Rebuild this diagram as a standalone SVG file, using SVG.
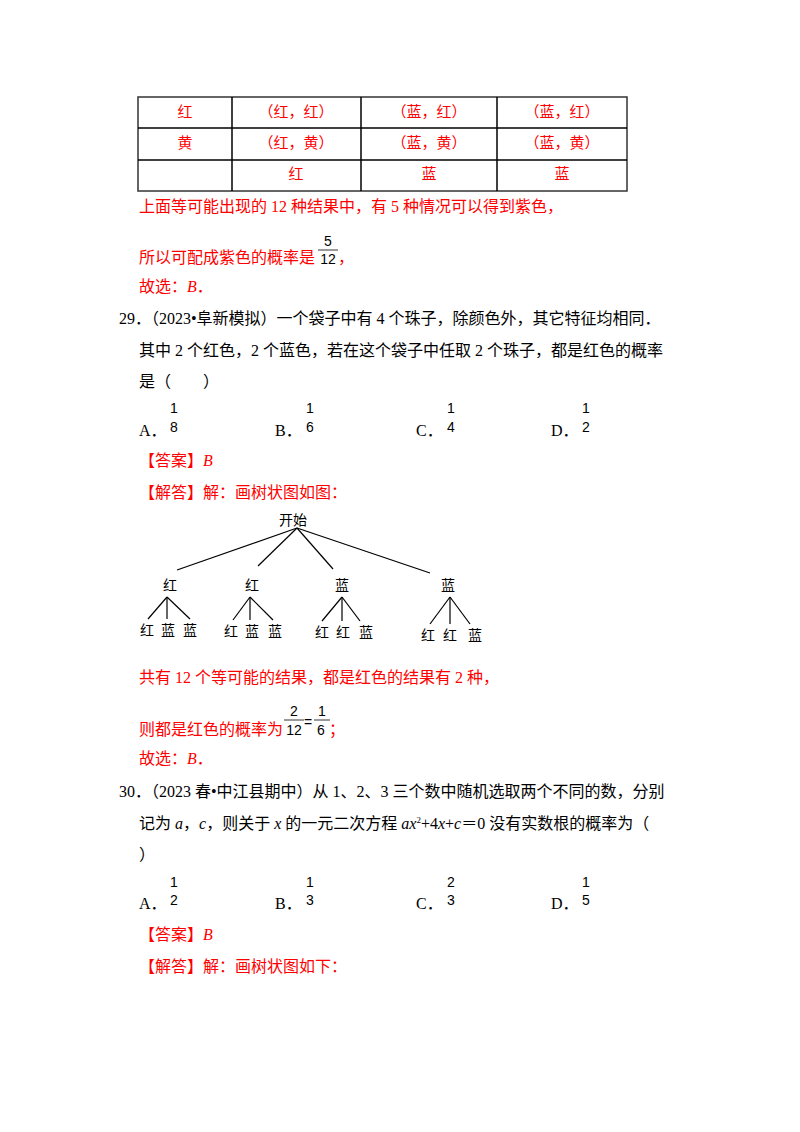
<svg xmlns="http://www.w3.org/2000/svg" width="800" height="1132" viewBox="0 0 800 1132">
<style>
text{font-family:"Liberation Serif","Noto Sans CJK SC",serif;font-size:16px}
.r{fill:#ff0000}
.k{fill:#000}
.m{text-anchor:middle;font-size:15px}
.f{font-family:"Liberation Sans","Noto Sans CJK SC",sans-serif;font-size:14px;text-anchor:middle}
.t{font-family:"Noto Sans CJK SC",sans-serif;font-size:14px;text-anchor:middle;fill:#000}
.i{font-style:italic}
line{stroke:#000}
</style>
<rect width="800" height="1132" fill="#fff"/>
<g id="table" stroke="#333" stroke-width="1.5" fill="none">
<rect x="138" y="97" width="489" height="94"/>
<line x1="138" y1="128" x2="627" y2="128" stroke="#333"/>
<line x1="138" y1="160" x2="627" y2="160" stroke="#333"/>
<line x1="232" y1="97" x2="232" y2="191" stroke="#333"/>
<line x1="361" y1="97" x2="361" y2="191" stroke="#333"/>
<line x1="497" y1="97" x2="497" y2="191" stroke="#333"/>
</g>
<g id="table-text">
<text class="r m" x="185" y="117">红</text><text class="r m" x="296" y="117">（红，红）</text><text class="r m" x="429" y="117">（蓝，红）</text><text class="r m" x="562" y="117">（蓝，红）</text>
<text class="r m" x="185" y="148">黄</text><text class="r m" x="296" y="148">（红，黄）</text><text class="r m" x="429" y="148">（蓝，黄）</text><text class="r m" x="562" y="148">（蓝，黄）</text>
<text class="r m" x="296" y="179">红</text><text class="r m" x="429" y="179">蓝</text><text class="r m" x="562" y="179">蓝</text>
</g>
<text class="r" x="139" y="212">上面等可能出现的 12 种结果中，有 5 种情况可以得到紫色，</text>
<text class="r" x="139" y="263">所以可配成紫色的概率是</text>
<text class="f" x="328" y="246">5</text><line x1="318" y1="250" x2="338" y2="250" stroke-width="0.8"/><text class="f" x="328" y="264">12</text>
<text class="r" x="338" y="263">，</text>
<text class="r" x="139" y="292">故选：<tspan class="i">B</tspan>．</text>
<text class="k" x="119" y="324">29．（2023•阜新模拟）一个袋子中有 4 个珠子，除颜色外，其它特征均相同．</text>
<text class="k" x="139" y="356">其中 2 个红色，2 个蓝色，若在这个袋子中任取 2 个珠子，都是红色的概率</text>
<text class="k" x="139" y="387">是（　　）</text>
<text class="k" x="139" y="436">A．</text><text class="f" x="174" y="413">1</text><text class="f" x="174" y="432">8</text>
<text class="k" x="275" y="436">B．</text><text class="f" x="310" y="413">1</text><text class="f" x="310" y="432">6</text>
<text class="k" x="416" y="436">C．</text><text class="f" x="451" y="413">1</text><text class="f" x="451" y="432">4</text>
<text class="k" x="551" y="436">D．</text><text class="f" x="586" y="413">1</text><text class="f" x="586" y="432">2</text>
<text class="r" x="139" y="466">【答案】<tspan class="i">B</tspan></text>
<text class="r" x="139" y="498">【解答】解：画树状图如图：</text>
<g id="tree-lines" stroke-width="1.2">
<line x1="297" y1="528" x2="177" y2="570"/><line x1="297" y1="528" x2="258" y2="566"/><line x1="297" y1="528" x2="333" y2="569"/><line x1="297" y1="528" x2="430" y2="573"/>
<line x1="167" y1="597" x2="148" y2="619"/><line x1="167" y1="597" x2="167" y2="619"/><line x1="167" y1="597" x2="190" y2="619"/>
<line x1="250" y1="597" x2="233" y2="620"/><line x1="250" y1="597" x2="250" y2="620"/><line x1="250" y1="597" x2="273" y2="620"/>
<line x1="342" y1="597" x2="322" y2="621"/><line x1="342" y1="597" x2="342" y2="621"/><line x1="342" y1="597" x2="360" y2="621"/>
<line x1="450" y1="597" x2="430" y2="624"/><line x1="450" y1="597" x2="450" y2="624"/><line x1="450" y1="597" x2="470" y2="624"/>
</g>
<g id="tree-nodes">
<text class="t" x="293" y="525">开始</text>
<text class="t" x="170" y="590">红</text><text class="t" x="252" y="590">红</text><text class="t" x="342" y="590">蓝</text><text class="t" x="448" y="590">蓝</text>
<text class="t" x="147" y="635">红</text><text class="t" x="168" y="635">蓝</text><text class="t" x="190" y="635">蓝</text>
<text class="t" x="231" y="636">红</text><text class="t" x="252" y="636">蓝</text><text class="t" x="275" y="636">蓝</text>
<text class="t" x="322" y="637">红</text><text class="t" x="343" y="637">红</text><text class="t" x="366" y="637">蓝</text>
<text class="t" x="428" y="640">红</text><text class="t" x="450" y="640">红</text><text class="t" x="475" y="640">蓝</text>
</g>
<text class="r" x="139" y="683">共有 12 个等可能的结果，都是红色的结果有 2 种，</text>
<text class="r" x="139" y="735">则都是红色的概率为</text>
<text class="f" x="294" y="716">2</text><line x1="284" y1="720" x2="304" y2="720" stroke-width="0.8"/><text class="f" x="294" y="735">12</text>
<text class="f" x="308" y="727">=</text>
<text class="f" x="322" y="716">1</text><line x1="314" y1="720" x2="330" y2="720" stroke-width="0.8"/><text class="f" x="321" y="735">6</text>
<text class="r" x="329" y="735">；</text>
<text class="r" x="139" y="764">故选：<tspan class="i">B</tspan>．</text>
<text class="k" x="119" y="797">30．（2023 春•中江县期中）从 1、2、3 三个数中随机选取两个不同的数，分别</text>
<text class="k" x="139" y="829">记为 <tspan class="i">a</tspan>，<tspan class="i">c</tspan>，则关于 <tspan class="i">x</tspan> 的一元二次方程 <tspan class="i">ax</tspan><tspan font-size="9" dy="-6">2</tspan><tspan dy="6">+4</tspan><tspan class="i">x</tspan>+<tspan class="i">c</tspan>＝0 没有实数根的概率为（</text>
<text class="k" x="139" y="860">）</text>
<text class="k" x="139" y="909">A．</text><text class="f" x="174" y="887">1</text><text class="f" x="174" y="905">2</text>
<text class="k" x="275" y="909">B．</text><text class="f" x="310" y="887">1</text><text class="f" x="310" y="905">3</text>
<text class="k" x="416" y="909">C．</text><text class="f" x="451" y="887">2</text><text class="f" x="451" y="905">3</text>
<text class="k" x="551" y="909">D．</text><text class="f" x="586" y="887">1</text><text class="f" x="586" y="905">5</text>
<text class="r" x="139" y="940">【答案】<tspan class="i">B</tspan></text>
<text class="r" x="139" y="972">【解答】解：画树状图如下：</text>
</svg>
